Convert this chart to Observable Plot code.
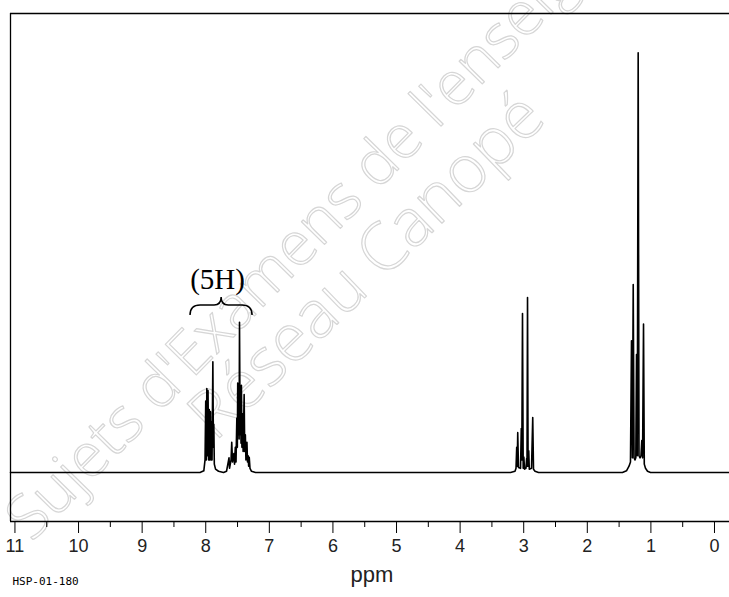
<!DOCTYPE html>
<html><head><meta charset="utf-8">
<script src="https://cdn.jsdelivr.net/npm/d3@7"></script>
<script src="https://cdn.jsdelivr.net/npm/@observablehq/plot@0.6"></script>
<style>body{margin:0;background:#fff;overflow:hidden} #chart svg{display:block}</style>
</head><body><div id="chart"></div>
<script>
// Spectrum trace vertices: chemical shift (ppm) and relative intensity
const shift = [
  11.07, 8.09, 8.03, 8.011, 8.000, 7.990, 7.983, 7.973, 7.964, 7.954, 7.945, 7.936, 7.926, 7.917, 7.909, 7.901, 7.888, 7.879, 7.873, 7.865, 7.846, 7.799, 7.720,
  7.673, 7.634, 7.626, 7.602, 7.591, 7.579, 7.558, 7.547, 7.535, 7.524, 7.511, 7.503, 7.497, 7.487, 7.480, 7.475, 7.469, 7.459, 7.450, 7.445, 7.439, 7.431, 7.421, 7.412, 7.396, 7.387, 7.377, 7.368, 7.352, 7.343, 7.333, 7.325, 7.316, 7.304, 7.280, 7.217,
  3.208, 3.137, 3.121, 3.110, 3.102, 3.094, 3.082, 3.050, 3.038, 3.030, 3.019, 3.008, 2.998, 2.987, 2.964, 2.954, 2.948, 2.940, 2.931, 2.921, 2.912, 2.877, 2.858, 2.846, 2.822, 2.767,
  1.447, 1.384, 1.344, 1.321, 1.305, 1.292, 1.278, 1.265, 1.250, 1.237, 1.226, 1.214, 1.200, 1.187, 1.171, 1.156, 1.143, 1.131, 1.116, 1.104, 1.085, 1.053, 1.006, -0.236
];
const intensity = [
  0, 0, 0.4, 3, 17, 3, 20, 4, 19.5, 3, 15, 3, 14.5, 3, 12, 3, 26.4, 6, 11.5, 2, 0.8, 0.3, 0,
  0.3, 3.5, 1, 3, 7.2, 2.5, 4.5, 2, 6, 2.5, 13, 6, 21.3, 9, 17, 8, 35.8, 9, 15, 7, 20.8, 6, 14, 5, 18.6, 5, 9, 3, 7.2, 2.5, 4, 1.5, 3.6, 1, 0.3, 0,
  0, 0.3, 1, 6, 1.5, 9.5, 1.2, 1, 10.5, 3, 37.9, 1, 3.7, 0.8, 1, 3.3, 1.5, 41.7, 1.5, 5.2, 0.8, 1, 13.1, 0.8, 0.3, 0,
  0, 0.4, 1.5, 2.5, 31.4, 3.5, 44.8, 3.5, 3, 3.5, 28.1, 4, 100, 4, 3.5, 4, 7.6, 3.5, 35.4, 2, 1, 0.3, 0, 0
];
const majorTicks = [11, 10, 9, 8, 7, 6, 5, 4, 3, 2, 1, 0];
const minorTicks = [10.5, 9.5, 8.5, 7.5, 6.5, 5.5, 4.5, 3.5, 2.5, 1.5, 0.5];
const annotationText = ["(5H)"];
const annotationShift = [7.814];
const annotationLevel = [46.0];
const braceShift = [8.239, 7.75, 7.264];   // left end, tip, right end
const braceLevel = [37.4, 39.8, 41.7];     // ends, arm, tip
const xDomain = [11.07, -0.236];
const yDomain = [-11.67, 109.36];
const watermark = ["Sujets d'Examens de l'enseignement", "Réseau Canopé"];

const points = shift.map((s, i) => ({s, v: intensity[i]}));

const braceMark = (index, {x, y}) => {
  const L = x(braceShift[0]), M = x(braceShift[1]), R = x(braceShift[2]);
  const yb = y(braceLevel[0]), yh = y(braceLevel[1]), yt = y(braceLevel[2]);
  const r = yb - yh;
  const p = document.createElementNS("http://www.w3.org/2000/svg", "path");
  p.setAttribute("d",
    `M${L},${yb} Q${L},${yh} ${L + r},${yh} H${M - r * 0.7} Q${M},${yh} ${M},${yt} Q${M},${yh} ${M + r * 0.7},${yh} H${R - r} Q${R},${yh} ${R},${yb}`);
  p.setAttribute("fill", "none");
  p.setAttribute("stroke", "#000");
  p.setAttribute("stroke-width", "1.5");
  return p;
};

const chart = Plot.plot({
  width: 729,
  height: 597,
  marginLeft: 10,
  marginRight: 0,
  marginTop: 13,
  marginBottom: 76,
  x: {domain: xDomain},
  y: {domain: yDomain, axis: null},
  style: {background: "#fff"},
  marks: [
    Plot.text([watermark[0]], {frameAnchor: "top-left", dx: -10, dy: 499, rotate: -45.5, textAnchor: "start",
      fontSize: 61, fontFamily: "Open Sans", fontWeight: 300, fill: "none", stroke: "#d6d6d6", strokeWidth: 1.2}),
    Plot.text([watermark[1]], {frameAnchor: "top-left", dx: 172, dy: 395, rotate: -44, textAnchor: "start",
      fontSize: 66, fontFamily: "Open Sans", fontWeight: 300, fill: "none", stroke: "#d6d6d6", strokeWidth: 1.2}),
    Plot.ruleX([xDomain[0]], {stroke: "#000", strokeWidth: 1.3}),
    Plot.ruleY([yDomain[1]], {stroke: "#000", strokeWidth: 1.3}),
    Plot.ruleY([yDomain[0]], {stroke: "#000", strokeWidth: 1.3}),
    Plot.axisX({ticks: majorTicks, tickSize: 12, tickPadding: 6, tickFormat: d => String(d),
      fontSize: 18, fontFamily: "Liberation Sans", fill: "#222", stroke: "#000", label: null}),
    Plot.axisX({ticks: minorTicks, tickSize: 6, tickFormat: () => "", stroke: "#000", label: null}),
    Plot.line(points, {x: "s", y: "v", stroke: "#000", strokeWidth: 1.6}),
    Plot.text(annotationText, {x: annotationShift, y: annotationLevel, fontFamily: "Liberation Serif", fontSize: 29, fill: "#000"}),
    braceMark,
    Plot.text(["ppm"], {frameAnchor: "bottom-left", dx: 340, dy: 60, textAnchor: "start", fontSize: 22, fontFamily: "Liberation Sans", fill: "#222"}),
    Plot.text(["HSP-01-180"], {frameAnchor: "bottom-left", dx: 2, dy: 63, textAnchor: "start", fontSize: 11, fontFamily: "DejaVu Sans Mono", fill: "#000"})
  ]
});
document.getElementById("chart").append(chart);
</script>
</body></html>
